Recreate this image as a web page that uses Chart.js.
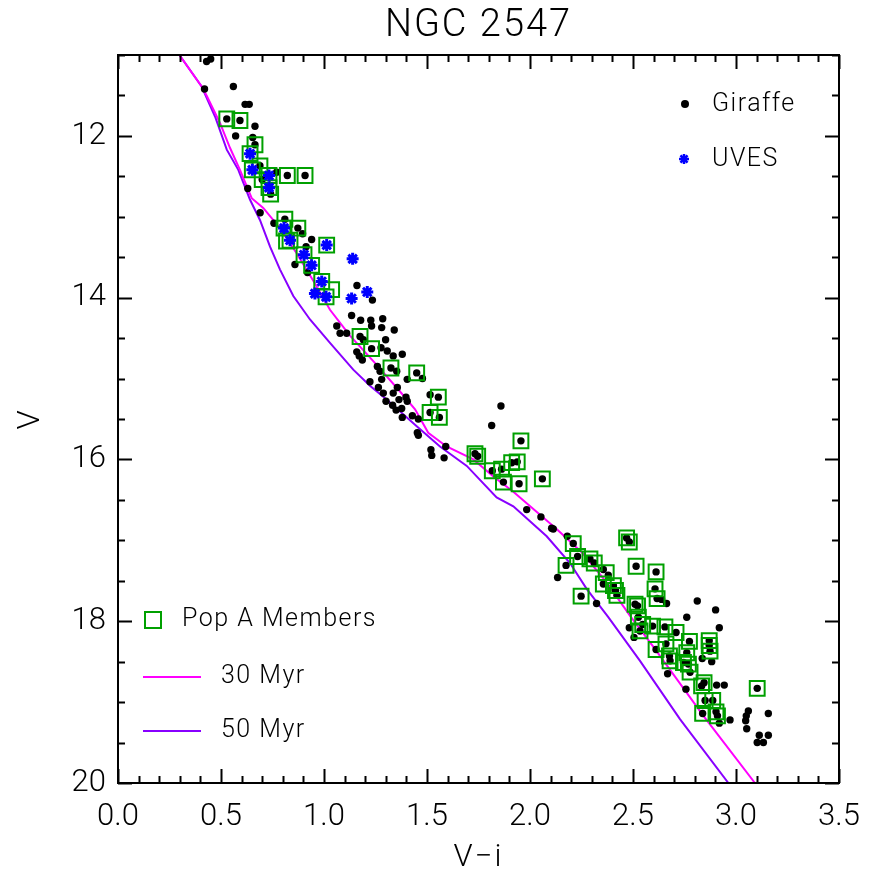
<!DOCTYPE html>
<html>
<head>
<meta charset="utf-8">
<title>NGC 2547</title>
<script src="https://cdn.jsdelivr.net/npm/chart.js@4.4.1/dist/chart.umd.min.js"></script>
<style>
  html, body { margin: 0; padding: 0; background: #fff; }
  canvas { display: block; }
</style>
</head>
<body>
<canvas id="cmd" width="879" height="872"></canvas>
<script>
// colour-magnitude diagram: V against V-i

const giraffe = [
  [0.43, 11.08], [0.45, 11.05], [0.42, 11.42], [0.56, 11.39], [0.617, 11.61], [0.637, 11.61],
  [0.528, 11.79], [0.592, 11.81], [0.665, 11.88], [0.571, 12.00], [0.654, 12.02], [0.665, 12.11],
  [0.689, 12.37], [0.70, 12.54], [0.741, 12.72], [0.77, 12.45], [0.822, 12.49], [0.908, 12.49],
  [0.63, 12.65], [0.69, 12.95], [0.757, 13.08], [0.81, 13.03], [0.873, 13.14], [0.896, 13.21],
  [0.94, 13.28], [0.913, 13.37], [0.859, 13.59], [0.92, 13.69], [1.16, 13.85], [1.235, 14.03],
  [1.134, 14.22], [1.178, 14.28], [1.227, 14.28], [1.285, 14.26], [1.062, 14.35], [1.231, 14.35],
  [1.28, 14.37], [1.341, 14.40], [1.078, 14.44], [1.11, 14.44], [1.175, 14.48], [1.191, 14.52],
  [1.299, 14.52], [1.231, 14.63], [1.277, 14.62], [1.159, 14.67], [1.307, 14.66], [1.171, 14.72],
  [1.336, 14.72], [1.38, 14.70], [1.186, 14.77], [1.259, 14.85], [1.325, 14.87], [1.272, 14.91],
  [1.353, 14.91], [1.45, 14.93], [1.478, 15.00], [1.404, 15.01], [1.28, 15.01], [1.223, 15.04],
  [1.264, 15.11], [1.356, 15.11], [1.288, 15.18], [1.336, 15.18], [1.515, 15.20], [1.555, 15.23],
  [1.398, 15.23], [1.364, 15.26], [1.301, 15.28], [1.404, 15.28], [1.333, 15.33], [1.377, 15.37],
  [1.35, 15.39], [1.515, 15.42], [1.429, 15.46], [1.56, 15.48], [1.458, 15.50], [1.38, 15.48],
  [1.453, 15.67], [1.458, 15.70], [1.591, 15.84], [1.519, 15.88], [1.523, 15.95], [1.583, 15.98],
  [1.859, 15.34], [1.814, 15.58], [1.956, 15.77], [1.733, 15.93], [1.746, 15.96], [1.817, 16.14],
  [1.862, 16.12], [1.911, 16.04], [1.938, 16.03], [1.871, 16.28], [1.947, 16.30], [2.06, 16.24],
  [1.984, 16.62], [2.053, 16.71], [2.105, 16.85], [2.113, 16.86], [2.181, 16.95], [2.21, 17.04],
  [2.231, 17.20], [2.291, 17.23], [2.312, 17.28], [2.175, 17.31], [2.134, 17.46], [2.248, 17.69],
  [2.323, 17.78], [2.356, 17.36], [2.38, 17.43], [2.356, 17.54], [2.405, 17.56], [2.415, 17.62],
  [2.422, 17.68], [2.469, 16.97], [2.482, 17.02], [2.515, 17.32], [2.612, 17.39], [2.607, 17.60],
  [2.617, 17.72], [2.639, 17.73], [2.663, 17.78], [2.51, 17.79], [2.522, 17.81], [2.812, 17.75],
  [2.901, 17.86], [2.761, 17.95], [2.919, 18.08], [2.526, 17.95], [2.547, 18.04], [2.595, 18.06],
  [2.655, 18.07], [2.709, 18.14], [2.482, 18.08], [2.534, 18.12], [2.505, 18.20], [2.774, 18.25],
  [2.87, 18.24], [2.87, 18.30], [2.874, 18.37], [2.66, 18.28], [2.612, 18.35], [2.677, 18.43],
  [2.68, 18.49], [2.761, 18.39], [2.745, 18.51], [2.769, 18.53], [2.777, 18.63], [2.836, 18.46],
  [2.882, 18.50], [2.668, 18.65], [2.845, 18.76], [2.833, 18.80], [2.906, 18.79], [2.943, 18.79],
  [3.103, 18.83], [2.757, 18.84], [2.85, 18.98], [2.887, 18.98], [2.838, 19.14], [2.903, 19.12],
  [2.91, 19.17], [3.06, 19.11], [3.05, 19.17], [3.047, 19.23], [3.157, 19.14], [2.971, 19.22],
  [2.919, 19.26], [3.052, 19.33], [3.113, 19.41], [3.157, 19.41], [3.103, 19.50], [3.133, 19.50]
]

const uves = [
  [0.641, 12.22], [0.652, 12.42], [0.733, 12.49], [0.733, 12.64], [0.806, 13.14], [0.835, 13.29],
  [1.013, 13.35], [0.903, 13.47], [0.94, 13.60], [1.139, 13.52], [0.989, 13.80], [0.956, 13.95],
  [1.01, 13.99], [1.21, 13.93], [1.134, 14.01]
]

const popA = [
  [0.528, 11.79], [0.592, 11.81], [0.665, 12.11], [0.822, 12.49], [0.908, 12.49], [0.81, 13.03],
  [0.873, 13.14], [0.689, 12.37], [0.70, 12.54], [0.741, 12.72], [0.818, 13.30], [1.037, 13.90],
  [0.641, 12.22], [0.652, 12.42], [0.733, 12.49], [0.733, 12.64], [0.806, 13.14], [0.835, 13.29],
  [1.013, 13.35], [0.903, 13.47], [0.94, 13.60], [0.989, 13.80], [1.01, 13.99],
  [1.175, 14.48], [1.231, 14.63], [1.325, 14.87], [1.45, 14.93], [1.555, 15.23], [1.515, 15.42],
  [1.56, 15.48], [1.956, 15.77], [1.733, 15.93], [1.746, 15.96], [1.817, 16.14], [1.862, 16.12],
  [1.911, 16.04], [1.938, 16.03], [1.871, 16.28], [1.947, 16.30], [2.06, 16.24],
  [2.21, 17.04], [2.231, 17.20], [2.291, 17.23], [2.312, 17.28], [2.175, 17.31], [2.248, 17.69],
  [2.37, 17.40], [2.356, 17.54], [2.405, 17.56], [2.415, 17.62], [2.422, 17.68], [2.469, 16.97],
  [2.482, 17.02], [2.515, 17.32], [2.612, 17.39], [2.607, 17.60], [2.617, 17.72], [2.51, 17.79],
  [2.522, 17.81], [2.526, 17.95], [2.547, 18.04], [2.595, 18.06], [2.655, 18.07], [2.709, 18.14],
  [2.534, 18.12], [2.774, 18.25], [2.87, 18.24], [2.87, 18.30], [2.874, 18.37], [2.66, 18.28],
  [2.612, 18.35], [2.677, 18.43], [2.68, 18.49], [2.761, 18.39], [2.745, 18.51], [2.769, 18.53],
  [2.777, 18.63], [2.845, 18.76], [2.833, 18.80], [3.103, 18.83], [2.85, 18.98], [2.887, 18.98],
  [2.838, 19.14], [2.903, 19.12], [2.91, 19.17]
]

// isochrones
const iso30 = [
  [0.298, 11.0], [0.406, 11.39], [0.43, 11.5], [0.495, 11.84], [0.544, 12.15], [0.592, 12.42],
  [0.649, 12.77], [0.705, 12.89], [0.786, 13.14], [0.867, 13.45], [0.964, 13.86], [1.029, 14.15],
  [1.126, 14.47], [1.248, 14.81], [1.369, 15.16], [1.442, 15.38], [1.506, 15.67], [1.595, 15.84],
  [1.725, 16.0], [1.822, 16.21], [1.919, 16.40], [2.129, 16.86], [2.252, 17.15], [2.372, 17.52],
  [2.485, 17.93], [2.60, 18.32], [2.842, 19.17], [3.092, 20.0]
]
const iso50 = [
  [0.298, 11.0], [0.406, 11.39], [0.471, 11.76], [0.528, 12.17], [0.584, 12.42], [0.641, 12.79],
  [0.689, 13.04], [0.738, 13.37], [0.786, 13.65], [0.851, 13.98], [0.932, 14.27], [1.029, 14.56],
  [1.142, 14.89], [1.223, 15.09], [1.304, 15.26], [1.45, 15.59], [1.563, 15.84], [1.693, 16.08],
  [1.838, 16.47], [1.919, 16.58], [2.081, 16.95], [2.194, 17.28], [2.275, 17.60], [2.38, 17.95],
  [2.534, 18.49], [2.728, 19.21], [2.963, 20.0]
]

const xTicks = [0, 0.5, 1.0, 1.5, 2.0, 2.5, 3.0, 3.5]
const yTicks = [12, 14, 16, 18, 20]

const FONT = 'Roboto, "DejaVu Sans", sans-serif'
const MAGENTA = '#ff00ff'
const VIOLET = '#8800ff'
const GREEN = '#00a000'
const BLUE = '#0000ff'

const pts = arr => arr.map(p => ({ x: p[0], y: p[1] }))

// inward ticks on all four sides plus the box
const frame = {
  id: 'frame',
  afterDatasetsDraw(chart) {
    const { ctx, chartArea: a, scales } = chart
    const xs = scales.x, ys = scales.y
    ctx.save()
    ctx.strokeStyle = '#000'
    ctx.lineWidth = 2
    ctx.beginPath()
    for (let i = 0; i <= 35; i++) {
      const v = i / 10
      const len = i % 5 === 0 ? 14 : 7
      const px = Math.round(xs.getPixelForValue(v)) + 0.5
      ctx.moveTo(px, a.bottom); ctx.lineTo(px, a.bottom - len)
      ctx.moveTo(px, a.top); ctx.lineTo(px, a.top + len)
    }
    for (let i = 22; i <= 40; i++) {
      const v = i / 2
      const len = i % 4 === 0 ? 14 : 7
      const py = Math.round(ys.getPixelForValue(v)) + 0.5
      ctx.moveTo(a.left, py); ctx.lineTo(a.left + len, py)
      ctx.moveTo(a.right, py); ctx.lineTo(a.right - len, py)
    }
    ctx.stroke()
    ctx.strokeRect(a.left, a.top, a.right - a.left, a.bottom - a.top)
    ctx.restore()
  },
  afterDraw(chart) {
    const { ctx, chartArea: a } = chart
    ctx.save()
    ctx.fillStyle = '#000'
    ctx.textBaseline = 'middle'
    ctx.textAlign = 'center'
    ctx.font = '300 38px ' + FONT
    ctx.letterSpacing = '2px'
    ctx.fillText('NGC 2547', (a.left + a.right) / 2, 26)
    ctx.font = '300 31px ' + FONT
    ctx.fillText('V\u2212i', (a.left + a.right) / 2, 858)
    ctx.save()
    ctx.translate(31, (a.top + a.bottom) / 2)
    ctx.rotate(-Math.PI / 2)
    ctx.fillText('V', 0, 0)
    ctx.restore()

    // legend
    ctx.letterSpacing = '1.5px'
    ctx.textAlign = 'left'
    ctx.font = '300 25px ' + FONT
    ctx.beginPath()
    ctx.arc(685, 104, 4, 0, Math.PI * 2)
    ctx.fill()
    ctx.fillText('Giraffe', 712, 105)

    ctx.strokeStyle = BLUE
    ctx.lineWidth = 2.5
    ctx.beginPath()
    for (let k = 0; k < 4; k++) {
      const t = k * Math.PI / 4
      ctx.moveTo(684 - 5 * Math.cos(t), 159 - 5 * Math.sin(t))
      ctx.lineTo(684 + 5 * Math.cos(t), 159 + 5 * Math.sin(t))
    }
    ctx.stroke()
    ctx.fillText('UVES', 712, 160)

    ctx.lineWidth = 2
    ctx.strokeStyle = GREEN
    ctx.strokeRect(145, 612, 16, 16)
    ctx.fillText('Pop A Members', 182, 620)

    ctx.strokeStyle = MAGENTA
    ctx.beginPath(); ctx.moveTo(143, 677); ctx.lineTo(201, 677); ctx.stroke()
    ctx.fillText('30 Myr', 221, 677)
    ctx.strokeStyle = VIOLET
    ctx.beginPath(); ctx.moveTo(143, 731); ctx.lineTo(201, 731); ctx.stroke()
    ctx.fillText('50 Myr', 221, 731)
    ctx.restore()
  }
}

new Chart(document.getElementById('cmd'), {
  type: 'scatter',
  data: {
    datasets: [
      { label: '30 Myr', data: pts(iso30), showLine: true, borderColor: MAGENTA, borderWidth: 2,
        pointRadius: 0, fill: false, order: 5 },
      { label: '50 Myr', data: pts(iso50), showLine: true, borderColor: VIOLET, borderWidth: 2,
        pointRadius: 0, fill: false, order: 6 },
      { label: 'Giraffe', data: pts(giraffe), pointStyle: 'circle', pointRadius: 3.7,
        backgroundColor: '#000', borderWidth: 0, order: 3 },
      { label: 'Pop A Members', data: pts(popA), pointStyle: 'rect', pointRadius: 10.5,
        backgroundColor: 'rgba(0,0,0,0)', borderColor: GREEN, borderWidth: 2, order: 2 },
      { label: 'UVES', data: pts(uves), pointStyle: 'star', pointRadius: 6,
        borderColor: BLUE, borderWidth: 3, order: 1 }
    ]
  },
  options: {
    responsive: false,
    animation: false,
    events: [],
    layout: { padding: { top: 55, right: 40, left: 0, bottom: 0 } },
    plugins: { legend: { display: false }, tooltip: { enabled: false } },
    scales: {
      x: {
        type: 'linear', min: 0, max: 3.5,
        afterFit: s => { s.height = 89 },
        afterBuildTicks: s => { s.ticks = xTicks.map(v => ({ value: v })) },
        grid: { display: false, drawTicks: false },
        border: { display: false },
        ticks: {
          color: '#000', padding: 16, maxRotation: 0, autoSkip: false,
          font: { family: FONT, size: 31, weight: '300' },
          callback: v => v.toFixed(1)
        }
      },
      y: {
        type: 'linear', min: 11, max: 20, reverse: true,
        afterFit: s => { s.width = 118 },
        afterBuildTicks: s => { s.ticks = yTicks.map(v => ({ value: v })) },
        grid: { display: false, drawTicks: false },
        border: { display: false },
        ticks: {
          color: '#000', padding: 12, autoSkip: false,
          font: { family: FONT, size: 31, weight: '300' }
        }
      }
    }
  },
  plugins: [frame]
})
</script>
</body>
</html>
